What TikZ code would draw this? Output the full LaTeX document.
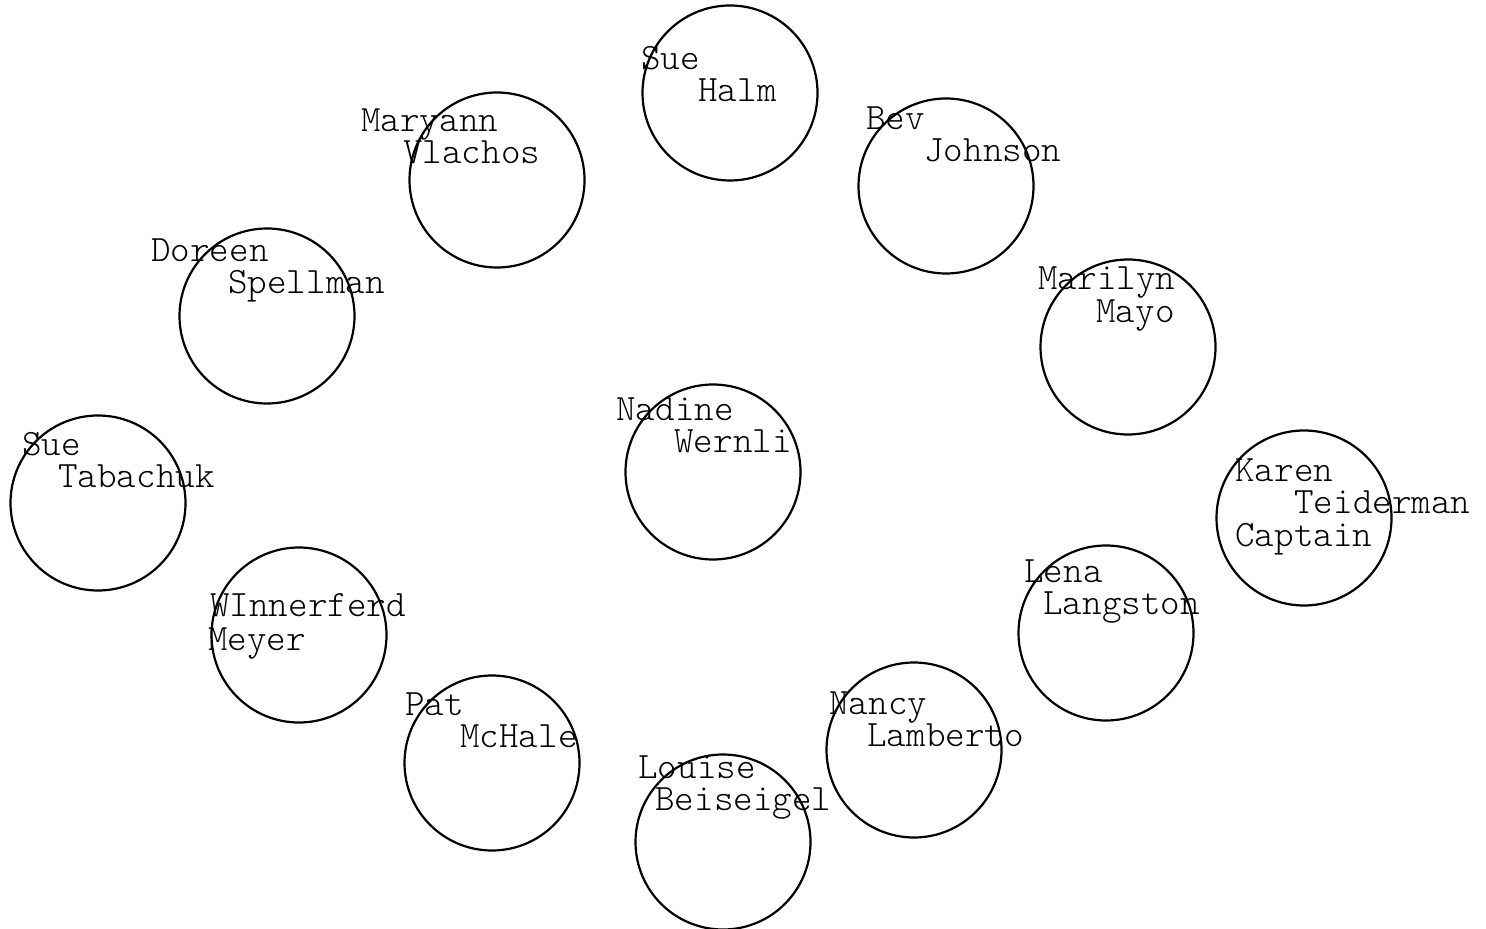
\documentclass[tikz,border=0pt]{standalone}
\begin{document}
\begin{tikzpicture}[x=0.5pt,y=-0.5pt,
                ring/.style={draw,circle,minimum size=87.5pt,inner sep=0pt,line width=1.1pt},
                tag/.style={anchor=base west,inner sep=0pt,font=\ttfamily\fontseries{l}\fontsize{18.6}{16}\selectfont}]

\useasboundingbox (0,0) rectangle (1486,929);

% top row
                    \node[ring] (HALM) at (730,93) {};
                    \node[tag] (HALMa) at (641,70) {Sue};
                    \node[tag] (HALMb) at (698,102) {Halm};

                    \node[ring] (VLACHOS) at (497,180) {};
                    \node[tag] (VLACHOSa) at (361,132) {Maryann};
                    \node[tag] (VLACHOSb) at (403,164) {Vlachos};

                    \node[ring] (JOHNSON) at (946,186) {};
                    \node[tag] (JOHNSONa) at (866,130) {Bev};
                    \node[tag] (JOHNSONb) at (924,162) {Johnson};

% left side
                    \node[ring] (SPELLMAN) at (267,316) {};
                    \node[tag] (SPELLMANa) at (151,262) {Doreen};
                    \node[tag] (SPELLMANb) at (228,294) {Spellman};

                    \node[ring] (TABACHUK) at (98,503) {};
                    \node[tag] (TABACHUKa) at (22,456) {Sue};
                    \node[tag] (TABACHUKb) at (58,488) {Tabachuk};

                    \node[ring] (MEYER) at (299,635) {};
                    \node[tag] (MEYERa) at (210,616) {WInnerferd};
                    \node[tag] (MEYERb) at (208,650) {Meyer};

                    \node[ring] (MCHALE) at (492,763) {};
                    \node[tag] (MCHALEa) at (405,715) {Pat};
                    \node[tag] (MCHALEb) at (460,747) {McHale};

% middle
                    \node[ring] (WERNLI) at (713,472) {};
                    \node[tag] (WERNLIa) at (616,421) {Nadine};
                    \node[tag] (WERNLIb) at (674,453) {Wernli};

                    \node[ring] (BEISEIGEL) at (723,842) {};
                    \node[tag] (BEISEIGELa) at (638,778) {Louise};
                    \node[tag] (BEISEIGELb) at (655,810) {Beiseigel};

% right side
                    \node[ring] (MAYO) at (1128,347) {};
                    \node[tag] (MAYOa) at (1038,290) {Marilyn};
                    \node[tag] (MAYOb) at (1096,323) {Mayo};

                    \node[ring] (TEIDERMAN) at (1304,518) {};
                    \node[tag] (TEIDERMANa) at (1235,482) {Karen};
                    \node[tag] (TEIDERMANb) at (1294,514) {Teiderman};
                    \node[tag] (TEIDERMANc) at (1235,546) {Captain};

                    \node[ring] (LANGSTON) at (1106,633) {};
                    \node[tag] (LANGSTONa) at (1024,582) {Lena};
                    \node[tag] (LANGSTONb) at (1043,614) {Langston};

                    \node[ring] (LAMBERTO) at (914,750) {};
                    \node[tag] (LAMBERTOa) at (829,714) {Nancy};
                    \node[tag] (LAMBERTOb) at (867,746) {Lamberto};

\end{tikzpicture}
\end{document}
